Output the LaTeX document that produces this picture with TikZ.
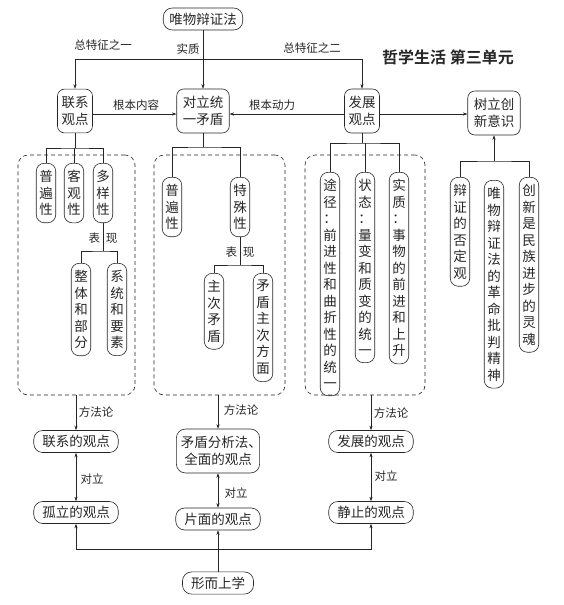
\documentclass[tikz,border=0pt]{standalone}
\usepackage{fontspec}
\setmainfont{Noto Sans CJK SC}[BoldFont=Noto Sans CJK SC Bold]
\usetikzlibrary{arrows.meta}
\usetikzlibrary{positioning}

\begin{document}
\begin{tikzpicture}[x=1pt,y=-1pt,line width=0.6pt,color=black!85,
   >={Stealth[length=4.5pt,width=3.2pt]},
   box/.style={draw,rounded corners=7pt,align=center,inner xsep=4pt,inner ysep=7pt,
               font=\fontsize{13.5}{17.5}\selectfont},
   vbox/.style={box,anchor=north,rounded corners=8pt,inner xsep=3pt,inner ysep=7pt,
               font=\fontsize{13.5}{16.5}\selectfont},
   hbox/.style={box,rounded corners=9pt,inner xsep=8.5pt,inner ysep=4.75pt},
   lbl/.style={font=\fontsize{11.5}{13}\selectfont,inner sep=1pt},
   grp/.style={draw,dash pattern=on 4pt off 3pt,rounded corners=10pt,inner sep=0pt}]
   \useasboundingbox (0,0) rectangle (564,605);

   % top row
   \node[hbox,inner xsep=6pt] (wb) at (203,19) {唯物辩证法};
   \node[box] (lx) at (75,111) {联系\\观点};
   \node[box,inner xsep=6pt] (dl) at (203,111) {对立统\\一矛盾};
   \node[box] (fz) at (362,111) {发展\\观点};
   \node[box,inner xsep=6pt] (cx) at (494,113) {树立创\\新意识};
   \node[font=\fontsize{16}{18}\selectfont\bfseries] (title) at (448,57) {哲学生活 第三单元};

   \coordinate (top) at (203,59);
   \draw[->] (wb.south) -- (dl.north);
   \draw[->] (top) -| (lx.north);
   \draw[->] (top) -| (fz.north);
   \draw[->] ([yshift=-3pt]lx.east) -- ([yshift=-3pt]dl.west);
   \draw[->] ([yshift=-3pt]fz.west) -- ([yshift=-3pt]dl.east);
   \draw[->] ([yshift=-3pt]fz.east) -- ([yshift=-1pt]cx.west);
   \node[lbl] (l1) at (103,45) {总特征之一};
   \node[lbl] (l2) at (188,49) {实质};
   \node[lbl] (l3) at (312,48) {总特征之二};
   \node[lbl] (l4) at (136,105) {根本内容};
   \node[lbl] (l5) at (272,105) {根本动力};

   % groups
   \node[grp,minimum width=117pt,minimum height=240pt] (g1) at (76.5,275) {};
   \node[grp,minimum width=131pt,minimum height=240pt] (g2) at (219.5,275) {};
   \node[grp,minimum width=120pt,minimum height=240pt] (g3) at (365,275) {};

   % left group
   \node[vbox] (p1) at (46,163) {普\\遍\\性};
   \node[vbox] (k1) at (74,163) {客\\观\\性};
   \node[vbox] (d1) at (103,163) {多\\样\\性};
   \node[vbox] (zt) at (81,263) {整\\体\\和\\部\\分};
   \node[vbox] (xt) at (117,263) {系\\统\\和\\要\\素};
   \coordinate (b1) at (75,148);
   \coordinate (b2) at (103,251);
   \draw (lx.south) -- (b1);
   \draw (p1.north) |- (b1) -| (d1.north);
   \draw (k1.north) -- (k1.north |- b1);
   \draw (d1.south) -- (b2);
   \draw (zt.north) |- (b2) -| (xt.north);
   \node[lbl] (bx1) at (103,238) {表\hspace{6pt}现};

   % middle group
   \node[vbox] (p2) at (172,177) {普\\遍\\性};
   \node[vbox] (ts) at (240,177) {特\\殊\\性};
   \node[vbox] (zc) at (214,273) {主\\次\\矛\\盾};
   \node[vbox] (mf) at (263,273) {矛\\盾\\主\\次\\方\\面};
   \coordinate (b3) at (203,147);
   \coordinate (b4) at (240,265);
   \draw (dl.south) -- (b3);
   \draw (p2.north) |- (b3) -| (ts.north);
   \draw (ts.south) -- (b4);
   \draw (zc.north) |- (b4) -| (mf.north);
   \node[lbl] (bx2) at (240,252) {表\hspace{6pt}现};

   % right group
   \node[vbox] (tj) at (330,172) {途\\径\\：\\前\\进\\性\\和\\曲\\折\\性\\的\\统\\一};
   \node[vbox] (zb) at (365,172) {状\\态\\：\\量\\变\\和\\质\\变\\的\\统\\一};
   \node[vbox] (sz) at (399,172) {实\\质\\：\\事\\物\\的\\前\\进\\和\\上\\升};
   \coordinate (b5) at (362,143);
   \draw (fz.south) -- (b5);
   \draw (tj.north) |- (b5) -| (sz.north);
   \draw (zb.north) -- (zb.north |- b5);

   % innovation
   \node[vbox] (bz) at (460,177) {辩\\证\\的\\否\\定\\观};
   \node[vbox] (gm) at (494,180) {唯\\物\\辩\\证\\法\\的\\革\\命\\批\\判\\精\\神};
   \node[vbox] (cs) at (529,177) {创\\新\\是\\民\\族\\进\\步\\的\\灵\\魂};
   \coordinate (b6) at (494,161);
   \draw[->] (b6) -- (cx.south);
   \draw (bz.north) |- (b6) -| (cs.north);

   % methodology
   \node[hbox] (lxd) at (76,441.5) {联系的观点};
   \node[hbox] (gl) at (76,512.5) {孤立的观点};
   \node[hbox,inner xsep=4.5pt,inner ysep=7pt] (md) at (218,451)
      {矛盾分析法\makebox[0.5em][l]{、}\\全面的观点};
   \node[hbox] (pm) at (218,519) {片面的观点};
   \node[hbox] (fzd) at (371,441.5) {发展的观点};
   \node[hbox] (jz) at (371,512.5) {静止的观点};
   \node[hbox] (xs) at (218,583) {形而上学};

   \draw[->] (g1.south -| lxd) -- (lxd.north);
   \draw[->] (g2.south -| md) -- (md.north);
   \draw[->] (g3.south -| fzd) -- (fzd.north);
   \draw[<->] (lxd) -- (gl);
   \draw[<->] (md) -- (pm);
   \draw[<->] (fzd) -- (jz);
   \node[lbl] (f1) at (96,412) {方法论};
   \node[lbl] (f2) at (241,410) {方法论};
   \node[lbl] (f3) at (391,413) {方法论};
   \node[lbl] (o1) at (92,479) {对立};
   \node[lbl] (o2) at (236,493) {对立};
   \node[lbl] (o3) at (386,476) {对立};

   \coordinate (bus) at (218,549);
   \draw[->] (xs) -- (pm);
   \draw[->] (bus) -| (gl.south);
   \draw[->] (bus) -| (jz.south);
\end{tikzpicture}
\end{document}
